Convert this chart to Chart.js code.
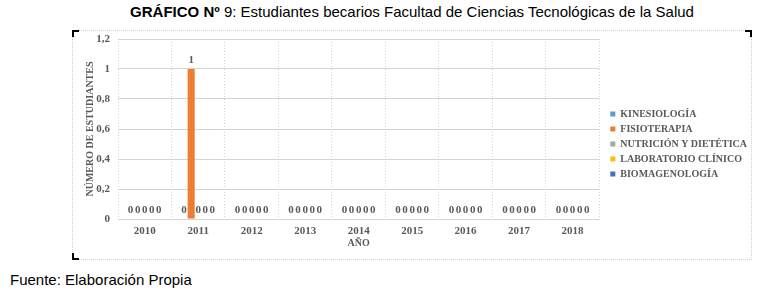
<!DOCTYPE html>
<html lang="es">
<head>
<meta charset="utf-8" />
<title>Gráfico 9</title>
<script src="https://cdn.jsdelivr.net/npm/chart.js"></script>
<style>
  body { margin: 0; background: #fff; font-family: "Liberation Sans", Arial, sans-serif; width: 761px; height: 293px; position: relative; overflow: hidden; }
  #title { position: absolute; left: 72px; width: 680px; top: 3px; text-align: center; font-size: 15px; color: #000; }
  #frame { position: absolute; left: 72px; top: 30px; width: 680px; height: 230px; border: 1px dotted #cfcfcf; box-sizing: border-box; }
  .corner { position: absolute; width: 5px; height: 5px; border-color: #000; border-style: solid; border-width: 0; }
  .tl { left: -1px; top: -1px; border-left-width: 2px; border-top-width: 2px; }
  .tr { right: -1px; top: -1px; border-right-width: 2px; border-top-width: 2px; }
  .bl { left: -1px; bottom: -1px; border-left-width: 2px; border-bottom-width: 2px; }
  #chart-container { position: absolute; left: 0; top: 0; width: 678px; height: 228px; }
  #fuente { position: absolute; left: 10px; top: 271px; font-size: 15px; color: #000; }
</style>
</head>
<body>
  <div id="title"><b>GRÁFICO Nº</b> 9: Estudiantes becarios Facultad de Ciencias Tecnológicas de la Salud</div>
  <div id="frame">
    <div class="corner tl"></div><div class="corner tr"></div><div class="corner bl"></div>
    <div id="chart-container"><canvas id="becChart"></canvas></div>
  </div>
  <div id="fuente">Fuente: Elaboración Propia</div>

  <script>
    const years = ['2010','2011','2012','2013','2014','2015','2016','2017','2018'];
    const kinesiologia   = [0,0,0,0,0,0,0,0,0];
    const fisioterapia   = [0,1,0,0,0,0,0,0,0];
    const nutricion      = [0,0,0,0,0,0,0,0,0];
    const laboratorio    = [0,0,0,0,0,0,0,0,0];
    const biomagenologia = [0,0,0,0,0,0,0,0,0];
    const yTicks = [0, 0.2, 0.4, 0.6, 0.8, 1, 1.2];

    const serif = '"Liberation Serif", "Times New Roman", serif';
    const grey = '#595959';

    // numbers above each bar
    const valueLabels = {
      id: 'valueLabels',
      afterDatasetsDraw(chart) {
        const ctx = chart.ctx;
        ctx.save();
        ctx.font = 'bold 11px ' + serif;
        ctx.fillStyle = grey;
        ctx.textAlign = 'center';
        ctx.textBaseline = 'bottom';
        chart.data.datasets.forEach((ds, i) => {
          chart.getDatasetMeta(i).data.forEach((el, j) => {
            ctx.fillText(String(ds.data[j]), el.x, el.y - 3);
          });
        });
        ctx.restore();
      }
    };

    // push the legend a bit away from the plot
    const legendShift = {
      id: 'legendShift',
      afterLayout(chart) {
        if (chart.legend) { chart.legend.left += 6; chart.legend.top -= 5; chart.legend.bottom -= 5; }
      }
    };

    const mk = (label, data, color) => ({ label, data, backgroundColor: color, borderWidth: 0 });

    new Chart(document.getElementById('becChart').getContext('2d'), {
      type: 'bar',
      data: {
        labels: years,
        datasets: [
          mk('KINESIOLOGÍA', kinesiologia, '#5B9BD5'),
          mk('FISIOTERAPIA', fisioterapia, '#ED7D31'),
          mk('NUTRICIÓN Y DIETÉTICA', nutricion, '#A5A5A5'),
          mk('LABORATORIO CLÍNICO', laboratorio, '#FFC000'),
          mk('BIOMAGENOLOGÍA', biomagenologia, '#4472C4')
        ]
      },
      plugins: [valueLabels, legendShift],
      options: {
        responsive: true,
        maintainAspectRatio: false,
        animation: false,
        datasets: { bar: { categoryPercentage: 0.66, barPercentage: 1 } },
        layout: { padding: { top: 8, left: 0, right: 0, bottom: 0 } },
        plugins: {
          legend: {
            position: 'right',
            align: 'center',
            labels: { boxWidth: 5, boxHeight: 5, padding: 5, color: grey, font: { family: serif, size: 10, weight: 'bold' } }
          },
          tooltip: { enabled: false }
        },
        scales: {
          x: {
            afterFit: axis => { axis.height = 40; },
            grid: { color: '#d4d4d4', borderDash: [1, 2], drawTicks: false },
            border: { color: '#d4d4d4', dash: [1, 2] },
            ticks: { color: grey, padding: 6, font: { family: serif, size: 11, weight: 'bold' } },
            title: { display: true, text: 'AÑO', color: grey, padding: { top: 0, bottom: 10 }, font: { family: serif, size: 10, weight: 'bold' } }
          },
          y: {
            min: 0, max: 1.2,
            afterFit: axis => { axis.width = 45; axis.paddingTop = 0; axis.paddingBottom = 0; },
            afterBuildTicks: axis => { axis.ticks = yTicks.map(v => ({ value: v })); },
            grid: { color: '#d4d4d4', borderDash: [1, 2], drawTicks: false },
            border: { display: false },
            ticks: {
              color: grey, padding: 8,
              font: { family: serif, size: 11, weight: 'bold' },
              callback: v => (Number.isInteger(v) ? String(v) : v.toFixed(1)).replace('.', ',')
            },
            title: { display: true, text: 'NÚMERO DE ESTUDIANTES', color: grey, padding: { top: 11, bottom: 0 }, font: { family: serif, size: 10, weight: 'bold' } }
          }
        }
      }
    });
  </script>
</body>
</html>
